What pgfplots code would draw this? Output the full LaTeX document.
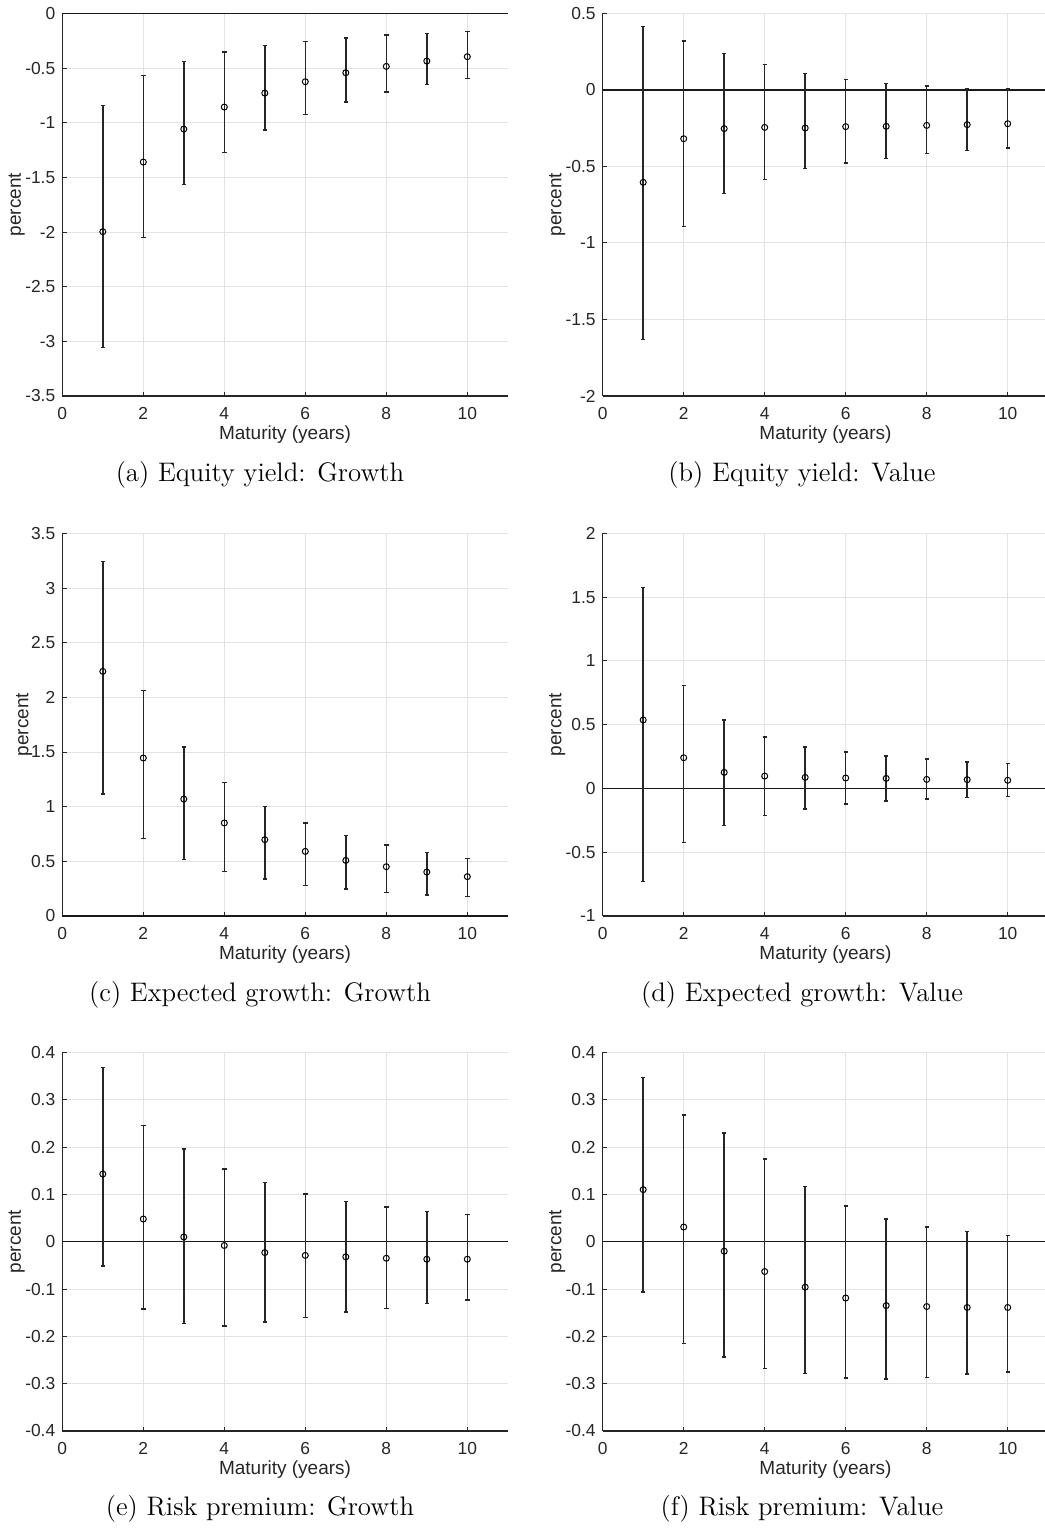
\documentclass[border=0pt]{standalone}
\usepackage{fontspec}
\usepackage{pgfplots}
\pgfplotsset{compat=1.18}
\newfontfamily\arialfont{Liberation Sans}
\definecolor{axgray}{RGB}{38,38,38}
\pgfplotsset{
 myax/.style={
  scale only axis, width=222.75pt, height=191.3pt,
  xmin=0, xmax=11, xtick={0,2,4,6,8,10},
  axis lines=left, axis line style={-, draw=axgray, line width=0.55pt},
  tick align=inside, major tick length=2.2pt, tick style={draw=axgray, line width=0.5pt},
  grid=major, major grid style={draw=black!11, line width=0.5pt},
  ticklabel style={font=\arialfont\fontsize{8.7}{10}\selectfont, text=axgray},
  /pgf/number format/assume math mode=true,
  /pgf/number format/fixed,
  xticklabel style={yshift=-2pt},
  xlabel={Maturity (years)}, ylabel={percent},
  label style={font=\arialfont\fontsize{9.5}{11}\selectfont, text=axgray},
  x label style={at={(axis description cs:0.5,0)}, anchor=center, yshift=-19.5pt},
  y label style={at={(axis description cs:-0.1024,0.5)}, anchor=center},
  clip=false,
 },
 eb/.style={black, only marks, mark=o, mark size=1.5pt,
  mark options={fill=white, line width=0.5pt, draw=black},
  error bars/.cd, y dir=both, y explicit,
  error bar style={line width=0.75pt, black!85},
  error mark options={rotate=90, mark size=1.1pt, line width=0.75pt, black!85}},
 zl/.style={black!90, line width=0.6pt, forget plot}
}
\begin{document}
\begin{tikzpicture}
% (a)
\begin{axis}[myax, at={(31.15pt,566pt)}, anchor=south west, ymin=-3.5, ymax=0,
  ytick={-3.5,-3,-2.5,-2,-1.5,-1,-0.5,0}]
\addplot[zl] coordinates {(0,0) (11,0)};
\addplot[eb] coordinates {
 (1,-1.997) += (0,1.156) -= (0,1.058)
 (2,-1.360) += (0,0.790) -= (0,0.692)
 (3,-1.058) += (0,0.616) -= (0,0.506)
 (4,-0.857) += (0,0.503) -= (0,0.414)
 (5,-0.729) += (0,0.436) -= (0,0.338)
 (6,-0.625) += (0,0.369) -= (0,0.299)
 (7,-0.543) += (0,0.317) -= (0,0.268)
 (8,-0.485) += (0,0.287) -= (0,0.235)
 (9,-0.436) += (0,0.253) -= (0,0.213)
 (10,-0.396) += (0,0.231) -= (0,0.199)
};
\end{axis}
% (b)
\begin{axis}[myax, at={(301.35pt,566pt)}, anchor=south west, ymin=-2, ymax=0.5,
  ytick={-2,-1.5,-1,-0.5,0,0.5}]
\addplot[zl] coordinates {(0,0) (11,0)};
\addplot[eb] coordinates {
 (1,-0.604) += (0,1.019) -= (0,1.028)
 (2,-0.319) += (0,0.640) -= (0,0.575)
 (3,-0.253) += (0,0.492) -= (0,0.423)
 (4,-0.245) += (0,0.412) -= (0,0.342)
 (5,-0.249) += (0,0.355) -= (0,0.264)
 (6,-0.240) += (0,0.309) -= (0,0.236)
 (7,-0.238) += (0,0.279) -= (0,0.211)
 (8,-0.232) += (0,0.257) -= (0,0.183)
 (9,-0.227) += (0,0.237) -= (0,0.170)
 (10,-0.221) += (0,0.227) -= (0,0.157)
};
\end{axis}
% (c)
\begin{axis}[myax, at={(31.15pt,306pt)}, anchor=south west, ymin=0, ymax=3.5,
  ytick={0,0.5,1,1.5,2,2.5,3,3.5},
  y label style={at={(axis description cs:-0.0855,0.5)}}]
\addplot[zl] coordinates {(0,0) (11,0)};
\addplot[eb] coordinates {
 (1,2.238) += (0,1.003) -= (0,1.122)
 (2,1.445) += (0,0.616) -= (0,0.735)
 (3,1.070) += (0,0.476) -= (0,0.552)
 (4,0.851) += (0,0.369) -= (0,0.442)
 (5,0.698) += (0,0.305) -= (0,0.360)
 (6,0.591) += (0,0.260) -= (0,0.311)
 (7,0.509) += (0,0.226) -= (0,0.262)
 (8,0.451) += (0,0.198) -= (0,0.238)
 (9,0.402) += (0,0.180) -= (0,0.210)
 (10,0.360) += (0,0.164) -= (0,0.183)
};
\end{axis}
% (d)
\begin{axis}[myax, at={(301.35pt,306pt)}, anchor=south west, ymin=-1, ymax=2,
  ytick={-1,-0.5,0,0.5,1,1.5,2}]
\addplot[zl] coordinates {(0,0) (11,0)};
\addplot[eb] coordinates {
 (1,0.537) += (0,1.040) -= (0,1.265)
 (2,0.241) += (0,0.565) -= (0,0.666)
 (3,0.126) += (0,0.411) -= (0,0.415)
 (4,0.097) += (0,0.306) -= (0,0.308)
 (5,0.087) += (0,0.238) -= (0,0.248)
 (6,0.082) += (0,0.204) -= (0,0.204)
 (7,0.079) += (0,0.175) -= (0,0.178)
 (8,0.071) += (0,0.160) -= (0,0.154)
 (9,0.069) += (0,0.138) -= (0,0.139)
 (10,0.064) += (0,0.131) -= (0,0.126)
};
\end{axis}
% (e)
\begin{axis}[myax, height=189.3pt, at={(31.15pt,48.5pt)}, anchor=south west, ymin=-0.4, ymax=0.4,
  ytick={-0.4,-0.3,-0.2,-0.1,0,0.1,0.2,0.3,0.4}]
\addplot[zl] coordinates {(0,0) (11,0)};
\addplot[eb] coordinates {
 (1,0.143) += (0,0.225) -= (0,0.194)
 (2,0.048) += (0,0.198) -= (0,0.190)
 (3,0.010) += (0,0.186) -= (0,0.183)
 (4,-0.008) += (0,0.162) -= (0,0.170)
 (5,-0.023) += (0,0.148) -= (0,0.147)
 (6,-0.029) += (0,0.130) -= (0,0.131)
 (7,-0.032) += (0,0.117) -= (0,0.117)
 (8,-0.035) += (0,0.108) -= (0,0.106)
 (9,-0.037) += (0,0.101) -= (0,0.094)
 (10,-0.037) += (0,0.094) -= (0,0.086)
};
\end{axis}
% (f)
\begin{axis}[myax, height=189.3pt, at={(301.35pt,48.5pt)}, anchor=south west, ymin=-0.4, ymax=0.4,
  ytick={-0.4,-0.3,-0.2,-0.1,0,0.1,0.2,0.3,0.4}]
\addplot[zl] coordinates {(0,0) (11,0)};
\addplot[eb] coordinates {
 (1,0.110) += (0,0.237) -= (0,0.216)
 (2,0.031) += (0,0.237) -= (0,0.246)
 (3,-0.020) += (0,0.250) -= (0,0.224)
 (4,-0.063) += (0,0.238) -= (0,0.205)
 (5,-0.096) += (0,0.213) -= (0,0.182)
 (6,-0.119) += (0,0.194) -= (0,0.169)
 (7,-0.135) += (0,0.183) -= (0,0.155)
 (8,-0.137) += (0,0.168) -= (0,0.150)
 (9,-0.139) += (0,0.161) -= (0,0.141)
 (10,-0.139) += (0,0.152) -= (0,0.136)
};
\end{axis}
\begin{scope}[every node/.style={anchor=base, font=\fontsize{13.4}{15}\selectfont, inner sep=0pt}]
\node at (130pt,523.2pt) {(a) Equity yield: Growth};
\node at (401pt,523.2pt) {(b) Equity yield: Value};
\node at (130pt,263.2pt) {(c) Expected growth: Growth};
\node at (401pt,263.2pt) {(d) Expected growth: Value};
\node at (130pt,6pt) {(e) Risk premium: Growth};
\node at (401pt,6pt) {(f) Risk premium: Value};
\end{scope}
\pgfresetboundingbox
\path[use as bounding box] (0,0) rectangle (522.5pt,764pt);
\end{tikzpicture}
\end{document}
